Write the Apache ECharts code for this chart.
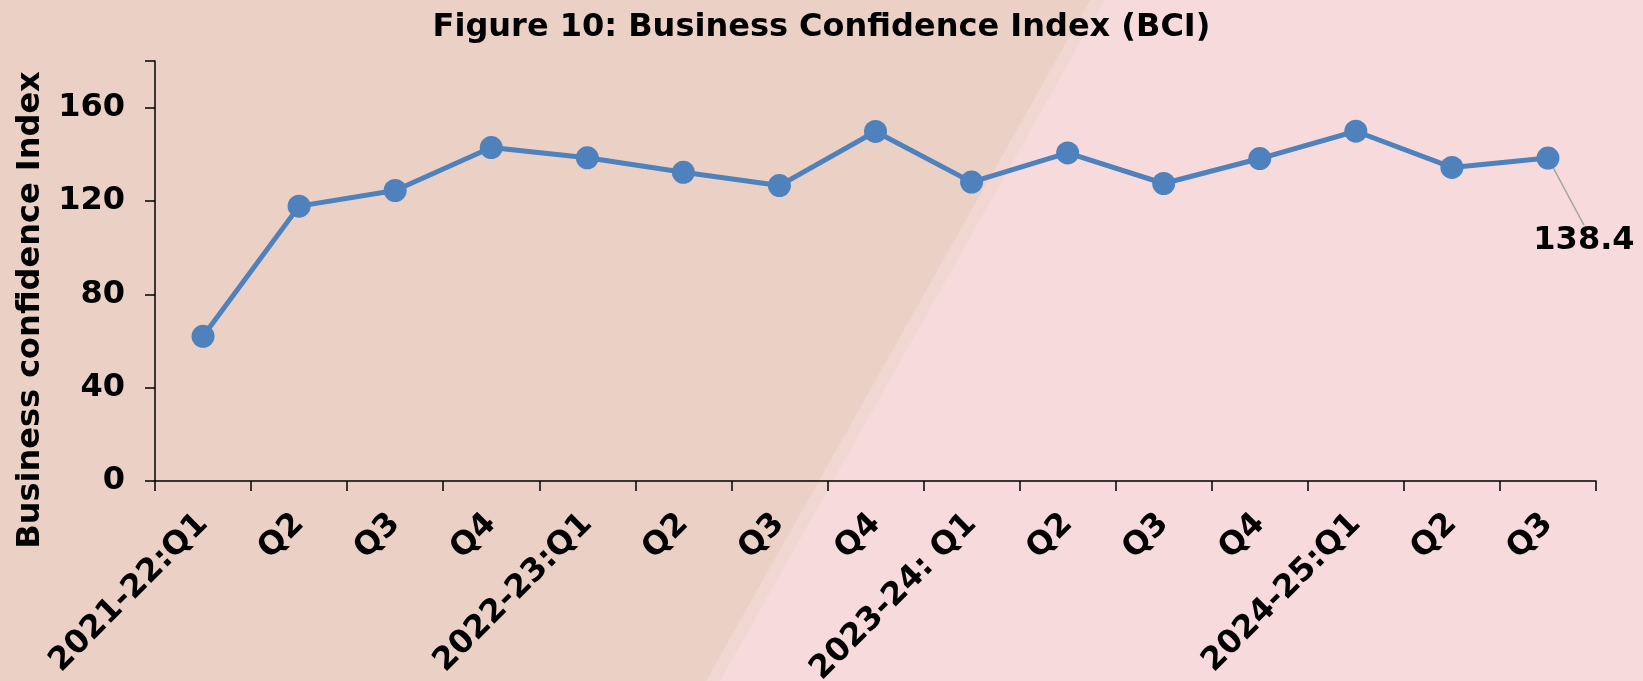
<!DOCTYPE html>
<html>
<head>
<meta charset="utf-8">
<script src="https://cdn.jsdelivr.net/npm/echarts@6/dist/echarts.min.js"></script>
<style>
html,body{margin:0;padding:0;}
#chart{width:1643px;height:681px;}
</style>
</head>
<body>
<div id="chart"></div>
<script>
const titleText = 'Figure 10: Business Confidence Index (BCI)';
const yAxisName = 'Business confidence Index';
const categories = ['2021-22:Q1','Q2','Q3','Q4','2022-23:Q1','Q2','Q3','Q4','2023-24: Q1','Q2','Q3','Q4','2024-25:Q1','Q2','Q3'];
const bciValues = [62.0, 117.8, 124.5, 142.9, 138.5, 132.3, 126.6, 149.8, 128.1, 140.6, 127.5, 138.2, 149.9, 134.4, 138.4];
const yTicks = {min: 0, max: 180, interval: 40};

const FONT = '"DejaVu Sans", Verdana, sans-serif';
const chart = echarts.init(document.getElementById('chart'));
const lastIdx = bciValues.length - 1;

chart.setOption({
  backgroundColor: '#F7DBDC',
  graphic: [
    {type: 'polygon', silent: true, z: -10,
     shape: {points: [[0,0],[1104,0],[720,681],[0,681]]},
     style: {fill: '#F1D7D2'}},
    {type: 'polygon', silent: true, z: -9,
     shape: {points: [[0,0],[1090,0],[706,681],[0,681]]},
     style: {fill: '#EBD1C5'}}
  ],
  title: {
    text: titleText, left: 'center', top: 7,
    textStyle: {fontFamily: FONT, fontWeight: 'bold', fontSize: 32, color: '#000'}
  },
  grid: {left: 155, right: 47, top: 61, bottom: 200, containLabel: false, outerBoundsMode: 'none'},
  xAxis: {
    type: 'category', data: categories, boundaryGap: true,
    axisLine: {lineStyle: {color: '#000', width: 1.5}},
    axisTick: {show: true, length: 10, lineStyle: {color: '#000', width: 1.5}},
    axisLabel: {rotate: 45, interval: 0, margin: 38, color: '#000',
      fontFamily: FONT, fontWeight: 'bold', fontSize: 32}
  },
  yAxis: {
    type: 'value', min: yTicks.min, max: yTicks.max, interval: yTicks.interval,
    name: yAxisName, nameLocation: 'middle', nameGap: 108,
    nameTextStyle: {fontFamily: FONT, fontWeight: 'bold', fontSize: 32, color: '#000',
      padding: [0, 78, 0, 0]},
    splitLine: {show: false},
    axisLine: {show: true, lineStyle: {color: '#000', width: 1.5}},
    axisTick: {show: true, length: 10, lineStyle: {color: '#000', width: 1.5}},
    axisLabel: {margin: 30, color: '#000', fontFamily: FONT, fontWeight: 'bold', fontSize: 32,
      formatter: function(v){ return v > 160 ? '' : v; }}
  },
  series: [{
    type: 'line',
    data: bciValues.map(function(v, i){
      return i === lastIdx ? {value: v, label: {show: true}} : v;
    }),
    symbol: 'circle', symbolSize: 23,
    lineStyle: {color: '#4F81BD', width: 5},
    itemStyle: {color: '#4F81BD'},
    label: {show: false, position: 'inside', color: '#000', fontFamily: FONT,
      fontWeight: 'bold', fontSize: 32, formatter: function(p){ return p.value.toFixed(1); }},
    labelLine: {show: true, lineStyle: {color: '#A6A6A6', width: 1.5}},
    labelLayout: {dx: 36, dy: 83},
    animation: false
  }],
  animation: false
});
</script>
</body>
</html>
